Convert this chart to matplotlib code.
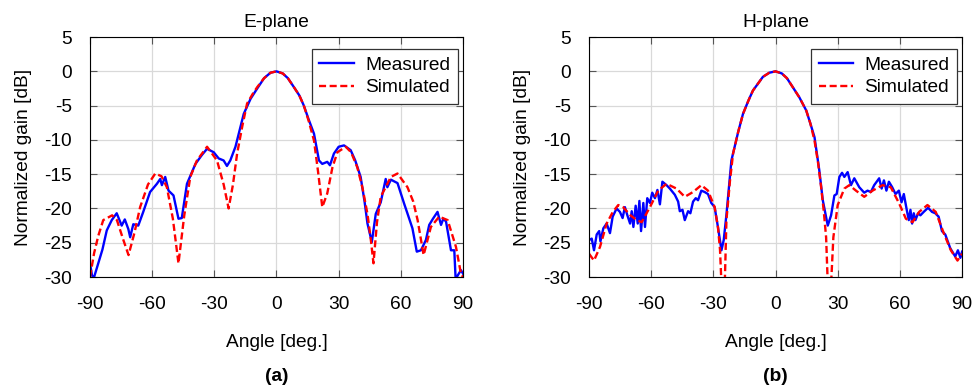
import matplotlib
matplotlib.use("Agg")
import matplotlib.pyplot as plt

plt.rcParams["font.family"] = ["Liberation Sans", "DejaVu Sans"]
plt.rcParams["axes.unicode_minus"] = False

# E-plane (a)
e_sim_ang = [-90, -88, -86, -83.6, -79.3, -77, -74, -71.4, -68.5, -65.8,
             -62, -58.5, -55.5, -52.9, -50, -47.3, -44.5, -41.6, -38.4, -33.5,
             -28.7, -25.5, -23.1, -21, -19, -16.5, -14.2, -11.5, -9.3, -6,
             -2.9, 0, 3, 5.5, 8.4, 11, 13.2, 15.5, 18.1, 20,
             22.1, 24.5, 27, 29.4, 33.4, 36, 39, 41.5, 43.9, 45.5,
             46.8, 48.5, 50.3, 55.2, 58.4, 63.2, 66, 68.1, 71, 74.5,
             78.5, 82.6, 86.6, 89, 90]
e_sim_db = [-30, -26.5, -24, -21.7, -21.0, -21.7, -24.5, -26.8, -23.5, -19.8,
            -16.5, -14.9, -15.3, -16.9, -21.5, -28.0, -21, -15.4, -13.0, -11.0,
            -13.0, -16.5, -20.0, -16.5, -12.0, -8, -4.7, -3.3, -2.3, -1.0,
            -0.2, 0, -0.3, -1.0, -2.3, -3.5, -5.0, -7.2, -10.1, -14.5,
            -19.8, -17.8, -14, -11.8, -11.0, -11.8, -14.0, -17, -20.8, -24.5,
            -28.0, -22, -18.3, -15.4, -14.9, -16.9, -19, -21.7, -26.8, -22.7,
            -21.2, -21.7, -25.6, -29.5, -30]
e_meas_ang = [-90, -89, -88, -86, -84, -81.9, -79.5, -77.1, -74.7, -73.2,
              -71.5, -70.6, -69.1, -66.7, -64.3, -61, -57.7, -56.1, -55.3, -53.7,
              -52.1, -49.7, -47.3, -45.7, -43.2, -39.1, -36, -33.5, -30.3, -27.9,
              -25.5, -23.9, -22.3, -19.8, -15.8, -12.5, -9.3, -6, -2.9, 0,
              3, 5.5, 8.4, 11, 13.2, 15.5, 18.1, 20.5, 22.1, 24.5,
              25.8, 27.7, 30, 32.6, 35.8, 38, 40.6, 42.5, 43.9, 46.0,
              47.9, 50.3, 52.7, 53.5, 55.2, 58.4, 61.6, 63.5, 65.6, 67.7,
              69.7, 72.1, 73.7, 75.5, 77.7, 79.4, 80.5, 81.8, 83, 84.2,
              85.8, 86.4, 87, 88, 89, 90]
e_meas_db = [-28, -29.8, -30, -28, -26, -23.2, -21.7, -20.7, -22.5, -21.6,
             -23, -24.2, -22.3, -22.5, -20.5, -17.6, -16.4, -15.7, -16.6, -15.4,
             -17.4, -18.1, -21.5, -21.4, -16.4, -13.5, -12.2, -11.3, -11.8, -12.7,
             -13.0, -13.8, -13.0, -11.0, -6.2, -4.0, -2.5, -1.0, -0.2, 0,
             -0.3, -1.0, -2.3, -3.5, -5.0, -7.0, -9.1, -13.0, -13.5, -13.2,
             -13.7, -12.0, -11.0, -10.8, -11.5, -13, -15.4, -19, -22.2, -24.9,
             -20.8, -19.1, -15.7, -16.9, -15.8, -16.3, -19.3, -21, -22.9, -26.3,
             -26.1, -24.6, -22.4, -21.5, -20.5, -22.4, -21.5, -21.9, -24, -26.1,
             -26.1, -30, -30, -29.5, -29, -29.5]

# H-plane (b)
h_sim_ang = [-90, -87.6, -84.7, -81.5, -78.5, -75.9, -73.6, -70, -67, -64.6,
             -60.6, -56.6, -52.6, -47.8, -43.8, -39.8, -35.8, -32.6, -29.4, -27.8,
             -26.8, -26.1, -24.5, -23.7, -22, -20.5, -18, -15.7, -13, -10.9,
             -6.1, -3, 0, 3, 5.5, 8.3, 11.5, 14.8, 16.8, 18.8,
             20.5, 22.0, 23.3, 24.4, 25.2, 26.8, 27.9, 30.0, 33.2, 35.6,
             38.8, 42.8, 46.8, 51.6, 55.6, 59.7, 62.9, 66.1, 69.3, 73.3,
             77.3, 81.3, 84.6, 87.8, 90]
h_sim_db = [-26.6, -27.6, -25.6, -22.2, -20.5, -19.5, -19.8, -21, -21.7, -22.0,
            -19.8, -17.4, -16.4, -17.1, -18.3, -17.6, -16.6, -17.4, -19.8, -22.7,
            -26, -31, -31, -21.7, -16, -12.0, -8.8, -6.2, -4.2, -2.8,
            -0.8, -0.2, 0, -0.3, -1.0, -2.3, -3.8, -5.7, -7.6, -10.1,
            -13.3, -16.9, -20.5, -24.2, -31, -31, -24.2, -19.5, -17.1, -16.6,
            -17.4, -18.3, -17.4, -16.6, -16.9, -19.3, -21.5, -22.0, -20.5, -19.5,
            -20.5, -23.7, -26.1, -27.6, -26.6]
h_meas_ang = [-90, -88.7, -87.6, -86.3, -85.1, -84.5, -83.1, -81.5, -79.9, -78.6,
              -76.7, -75.1, -73.8, -72.7, -71.5, -70.2, -69.4, -68.6, -67.5, -66.5,
              -65.7, -64.9, -63.8, -63.0, -61.9, -60.6, -59.5, -58.2, -57.0, -55.8,
              -54.6, -52.6, -51.0, -48.6, -47.0, -46.2, -44.9, -43.8, -42.2, -41.1,
              -39.8, -38.5, -37.4, -35.8, -34.2, -32.6, -31.0, -29.4, -27.8, -26.1,
              -25.0, -23.7, -21.3, -18, -15.7, -13, -10.9, -6.1, -3, 0,
              3, 5.5, 8.3, 11.5, 14.8, 16.8, 18.8, 21.1, 22.8, 25.2,
              26.8, 28.4, 29.5, 30.8, 32.1, 33.2, 34.8, 36.4, 38.0, 40.4,
              42.8, 44.4, 46.0, 47.6, 50.0, 51.2, 52.3, 53.5, 54.7, 56.3,
              57.9, 59.5, 60.8, 61.9, 63.5, 64.3, 65.1, 65.9, 66.7, 67.5,
              68.8, 69.9, 71.5, 73.6, 75.5, 77.1, 78.7, 80.3, 81.9, 84.3,
              86.7, 88.0, 89.2, 90]
h_meas_db = [-24.6, -24.4, -26.1, -23.8, -23.3, -24.8, -22.9, -22.2, -23.6, -21.2,
             -20.0, -20.5, -21.4, -19.8, -21.0, -22.2, -20.4, -22.7, -19.6, -22.2,
             -18.9, -23.3, -19.2, -22.7, -18.5, -19.2, -17.7, -18.5, -17.3, -19.4,
             -16.1, -16.6, -17.1, -18.0, -19.0, -20.4, -20.2, -21.7, -20.4, -20.7,
             -19.0, -18.5, -18.8, -17.4, -17.6, -17.9, -19.2, -19.8, -22.7, -26.1,
             -24.6, -20.9, -13.0, -8.8, -6.2, -4.2, -2.8, -0.8, -0.2, 0,
             -0.3, -1.0, -2.3, -3.8, -5.7, -7.6, -9.6, -14.4, -18.8, -22.5,
             -21.0, -18.1, -17.9, -15.4, -14.8, -15.4, -14.7, -16.6, -15.6, -16.9,
             -17.7, -17.4, -17.6, -16.6, -15.6, -17.1, -15.9, -17.4, -16.1, -16.9,
             -17.9, -17.4, -19.1, -17.9, -20.5, -21.7, -20.2, -22.2, -20.7, -21.7,
             -20.7, -21.0, -20.5, -19.9, -20.5, -20.7, -21.2, -23.3, -23.8, -25.8,
             -27.0, -26.1, -27.2, -26.3]

x_ticks = [-90, -60, -30, 0, 30, 60, 90]
y_ticks = [5, 0, -5, -10, -15, -20, -25, -30]

panels = [
    ("E-plane", "(a)", e_meas_ang, e_meas_db, e_sim_ang, e_sim_db),
    ("H-plane", "(b)", h_meas_ang, h_meas_db, h_sim_ang, h_sim_db),
]

fs = 13.8
fig = plt.figure(figsize=(9.77, 3.87), dpi=100)
lefts = [0.0921, 0.6029]
w = 0.3818
for left, (title, tag, ma, md, sa, sd) in zip(lefts, panels):
    ax = fig.add_axes([left, 0.2842, w, 0.620])
    ax.plot(ma, md, color="#0000ff", lw=1.7, label="Measured")
    ax.plot(sa, sd, color="#ff0000", lw=1.7, ls=(0, (3, 1.5)), label="Simulated")
    ax.set_xlim(-90, 90)
    ax.set_ylim(-30, 5)
    ax.set_xticks(x_ticks)
    ax.set_yticks(y_ticks)
    ax.grid(True, color="#d9d9d9", lw=0.9)
    ax.set_axisbelow(True)
    ax.tick_params(direction="in", top=True, right=True, length=5,
                   color="#555555", labelsize=fs)
    ax.tick_params(axis="x", pad=14)
    ax.tick_params(axis="y", pad=13)
    ax.set_title(title, fontsize=fs, pad=7)
    ax.set_xlabel("Angle [deg.]", fontsize=fs, labelpad=15)
    ax.set_ylabel("Normalized gain [dB]", fontsize=fs, labelpad=9)
    leg = ax.legend(loc="upper right", bbox_to_anchor=(0.987, 0.95),
                    borderaxespad=0, fontsize=fs, fancybox=False,
                    edgecolor="#333333", framealpha=1, handlelength=1.8,
                    borderpad=0.4, labelspacing=0.25, handletextpad=0.6)
    leg.get_frame().set_linewidth(0.9)
    fig.text(left + w / 2, 0.028, tag, ha="center", va="center",
             fontsize=fs, fontweight="bold")

fig.savefig("out.png", dpi=100)
